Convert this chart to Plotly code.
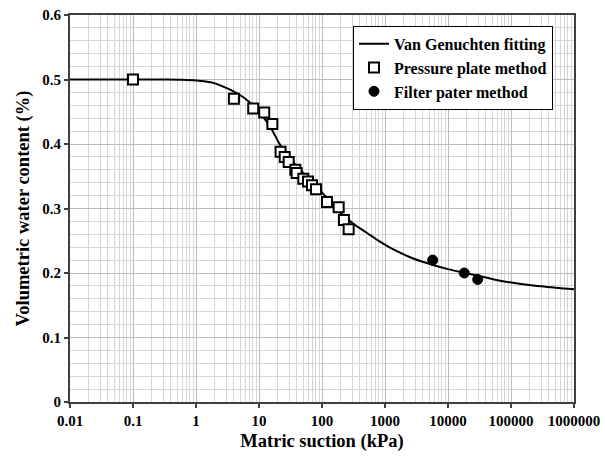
import plotly.graph_objects as go

# Van Genuchten fitted curve
fit_x = [0.01, 0.1, 0.3, 0.6, 1.0, 1.5, 2.0, 2.7, 3.7, 5.0, 7.0, 9.2, 12, 15, 18, 21.5, 28, 40,
         55, 73, 100, 134, 180, 250, 340, 450, 600, 830, 1200, 1700, 2800, 5800, 10000, 20000,
         40000, 67000, 120000, 226000, 500000, 1000000]
fit_y = [0.500, 0.500, 0.4999, 0.4995, 0.4985, 0.4965, 0.494, 0.489, 0.483, 0.476, 0.465, 0.453,
         0.440, 0.427, 0.413, 0.399, 0.383, 0.365, 0.351, 0.339, 0.325, 0.311, 0.297, 0.284,
         0.274, 0.266, 0.258, 0.2485, 0.2395, 0.232, 0.2225, 0.2125, 0.206, 0.1995, 0.193, 0.188,
         0.184, 0.1805, 0.1773, 0.175]

# Pressure plate method
pp_x = [0.1, 4.0, 8.1, 12.1, 16.3, 22, 25.6, 29.6, 37.8, 39.6, 50.5, 60, 69.4, 80.4, 120, 184, 223, 265]
pp_y = [0.500, 0.470, 0.455, 0.449, 0.431, 0.388, 0.380, 0.372, 0.360, 0.355, 0.346, 0.342,
        0.336, 0.330, 0.310, 0.302, 0.282, 0.268]

# Filter paper method
fp_x = [5710, 18150, 29600]
fp_y = [0.220, 0.200, 0.190]

x_tickvals = [0.01, 0.1, 1, 10, 100, 1000, 10000, 100000, 1000000]
x_ticktext = ["0.01", "0.1", "1", "10", "100", "1000", "10000", "100000", "1000000"]
y_tickvals = [0, 0.1, 0.2, 0.3, 0.4, 0.5, 0.6]
y_ticktext = ["0", "0.1", "0.2", "0.3", "0.4", "0.5", "0.6"]

FONT = "Liberation Serif"

fig = go.Figure()
fig.add_trace(go.Scatter(x=fit_x, y=fit_y, mode="lines", name="Van Genuchten fitting",
                         line=dict(color="black", width=2, shape="spline", smoothing=1.0)))
fig.add_trace(go.Scatter(x=pp_x, y=pp_y, mode="markers", name="Pressure plate method",
                         marker=dict(symbol="square", size=10, color="white",
                                     line=dict(color="black", width=2))))
fig.add_trace(go.Scatter(x=fp_x, y=fp_y, mode="markers", name="Filter pater method",
                         marker=dict(symbol="circle", size=10, color="black",
                                     line=dict(color="black", width=1))))

fig.update_layout(
    width=605, height=459,
    margin=dict(l=70, r=31, t=15, b=57),
    paper_bgcolor="white", plot_bgcolor="white",
    font=dict(family=FONT, color="black", size=15),
    showlegend=True,
    legend=dict(x=0.5615, y=0.972, xanchor="left", yanchor="top",
                bgcolor="white", bordercolor="black", borderwidth=1,
                font=dict(family=FONT, size=16, color="black", weight="bold"),
                tracegroupgap=0, itemwidth=30),
    xaxis=dict(
        type="log", range=[-2, 6], autorange=False,
        tickvals=x_tickvals, ticktext=x_ticktext,
        tickfont=dict(family=FONT, size=15, weight="bold"),
        ticks="outside", ticklen=4, tickwidth=1.5, tickcolor="#404040",
        showline=True, linecolor="#404040", linewidth=2, mirror=True,
        showgrid=True, gridcolor="#bcbcbc", gridwidth=1,
        minor=dict(dtick="D1", showgrid=True, gridcolor="#d6d6d6", gridwidth=1, ticks=""),
        zeroline=False,
        title=dict(text="Matric suction (kPa)", standoff=6,
                   font=dict(family=FONT, size=18.5, weight="bold")),
        automargin=False,
    ),
    yaxis=dict(
        range=[0, 0.6], autorange=False,
        tickvals=y_tickvals, ticktext=y_ticktext,
        tickfont=dict(family=FONT, size=15, weight="bold"),
        ticks="outside", ticklen=4, tickwidth=1.5, tickcolor="#404040",
        showline=True, linecolor="#404040", linewidth=2, mirror=True,
        showgrid=True, gridcolor="#bcbcbc", gridwidth=1,
        minor=dict(dtick=0.02, showgrid=True, gridcolor="#d6d6d6", gridwidth=1, ticks=""),
        zeroline=False,
        title=dict(text="Volumetric water content (%)", standoff=8,
                   font=dict(family=FONT, size=18.5, weight="bold")),
        automargin=False,
    ),
)

fig.write_html("out.html")
